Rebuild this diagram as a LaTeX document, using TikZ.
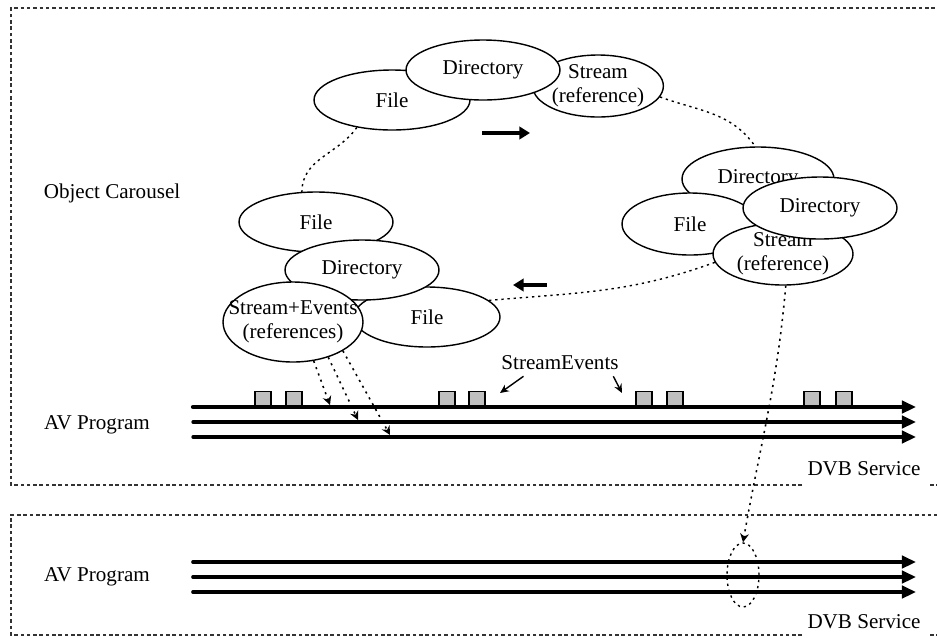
\documentclass[tikz,border=0pt]{standalone}
\usepackage{fontspec}
\setmainfont{Liberation Serif}
\usetikzlibrary{arrows.meta,shapes.geometric}

\begin{document}
\begin{tikzpicture}[x=0.02cm,y=-0.02cm]
\useasboundingbox (0,0) rectangle (937,637);

\tikzstyle{every node}=[font=\fontsize{12}{13.5}\selectfont];
\tikzstyle{obj}=[draw,shape=ellipse,fill=white,inner sep=0pt,align=center,line width=0.8pt];
\tikzstyle{boxline}=[line width=0.9pt,dash pattern=on 2pt off 1.6pt,black!80];
\tikzstyle{carousel}=[line width=0.8pt,dash pattern=on 1.3pt off 2.2pt];
\tikzstyle{spin}=[line width=2.2pt,-{Triangle[length=6pt,width=7pt]}];
\tikzstyle{evbox}=[draw,fill=black!25,minimum width=0.32cm,minimum height=0.3cm,inner sep=0pt,line width=0.9pt];
\tikzstyle{ref}=[line width=0.9pt,dash pattern=on 1.2pt off 2.6pt,-{Stealth[length=5pt,width=5pt]}];

% Service boxes (gap under the DVB Service labels)
\draw[boxline] (802,485) -| (11,8) -- (945,8);
\draw[boxline] (930,485) -- (945,485);
\draw[boxline] (802,635) -| (11,515) -- (945,515);
\draw[boxline] (930,635) -- (945,635);

\node (oc) at (112,193) {Object Carousel};
\node (av1) at (97,425) {AV Program};
\node (av2) at (97,577) {AV Program};
\node (dvb1) at (864,469) {DVB Service};
\node (dvb2) at (864,622) {DVB Service};

% Objects of the carousel, back to front
\node[obj,minimum width=3.12cm,minimum height=1.2cm] (tFile) at (392,100) {File};
\node[obj,minimum width=2.6cm,minimum height=1.24cm] (tStream) at (598,86) {Stream\\(reference)};
\node[obj,minimum width=3.08cm,minimum height=1.2cm] (tDir) at (483,70) {Directory};

\node[obj,minimum width=3.04cm,minimum height=1.28cm] (rDirB) at (758,179) {Directory};
\node[obj,minimum width=2.72cm,minimum height=1.24cm] (rFile) at (690,224) {File};
\node[obj,minimum width=2.8cm,minimum height=1.24cm] (rStream) at (783,254) {Stream\\(reference)};
\node[obj,minimum width=3.08cm,minimum height=1.24cm] (rDirF) at (820,208) {Directory};

\node[obj,minimum width=3.08cm,minimum height=1.2cm] (lFileA) at (316,222) {File};
\node[obj,minimum width=2.92cm,minimum height=1.2cm] (lFileB) at (427,317) {File};
\node[obj,minimum width=3.08cm,minimum height=1.2cm] (lDir) at (362,270) {Directory};
\node[obj,inner xsep=-10pt,minimum width=2.8cm,minimum height=1.6cm] (lSE) at (293,322) {Stream+Events\\(references)};

% The carousel turning round
\draw[carousel] (tFile.218) to[out=235,in=90] (lFileA.115);
\draw[carousel] (tStream.-10) to[out=-20,in=125] (rDirB.95);
\draw[carousel] (rStream.187) to[out=200,in=5] (lFileB.15);

\coordinate (r0) at (482,133);
\coordinate (r1) at (530,133);
\draw[spin] (r0) -- (r1);
\coordinate (l0) at (547,285);
\coordinate (l1) at (513,285);
\draw[spin] (l0) -- (l1);

% Stream events on the first component
\foreach \x [count=\idx] in {263,294,447,477,644,675,812,844}
  \node[evbox] (ev\idx) at (\x,399) {};

% Components of the first AV program
\foreach \y [count=\i] in {407,422,437} {
  \coordinate (a\i) at (193,\y);
  \coordinate (b\i) at (916,\y);
}
\draw[line width=2.4pt,line cap=round,-{Triangle[length=8pt,width=7pt]}] (a1) -- (b1);
\foreach \i in {2,3}
  \draw[line width=1.9pt,line cap=round,-{Triangle[length=8pt,width=7pt]}] (a\i) -- (b\i);

% Components of the second AV program
\foreach \y [count=\i] in {562,577,592} {
  \coordinate (c\i) at (193,\y);
  \coordinate (d\i) at (916,\y);
  \draw[line width=2.1pt,line cap=round,-{Triangle[length=8pt,width=7pt]}] (c\i) -- (d\i);
}

% References to the components
\coordinate (t1) at (330,405);
\coordinate (t2) at (358,420);
\coordinate (t3) at (390,435);
\draw[ref] (lSE.-62) -- (t1);
\draw[ref] (lSE.-45) -- (t2);
\draw[ref] (lSE.-30) -- (t3);

\node (sev) at (560,363) {StreamEvents};
\coordinate (e1) at (500,393);
\coordinate (e2) at (622,393);
\draw[line width=0.8pt,-{Stealth[length=5pt,width=4.5pt]}] (sev.200) -- (e1);
\draw[line width=0.8pt,-{Stealth[length=5pt,width=4.5pt]}] (sev.-14) -- (e2);

% Stream reference pointing into the other service
\node[draw,carousel,shape=ellipse,minimum width=0.64cm,minimum height=1.28cm] (sel) at (743,575) {};
\draw[ref] (rStream.-85) to[out=-95,in=80] (sel.north);

\end{tikzpicture}
\end{document}
